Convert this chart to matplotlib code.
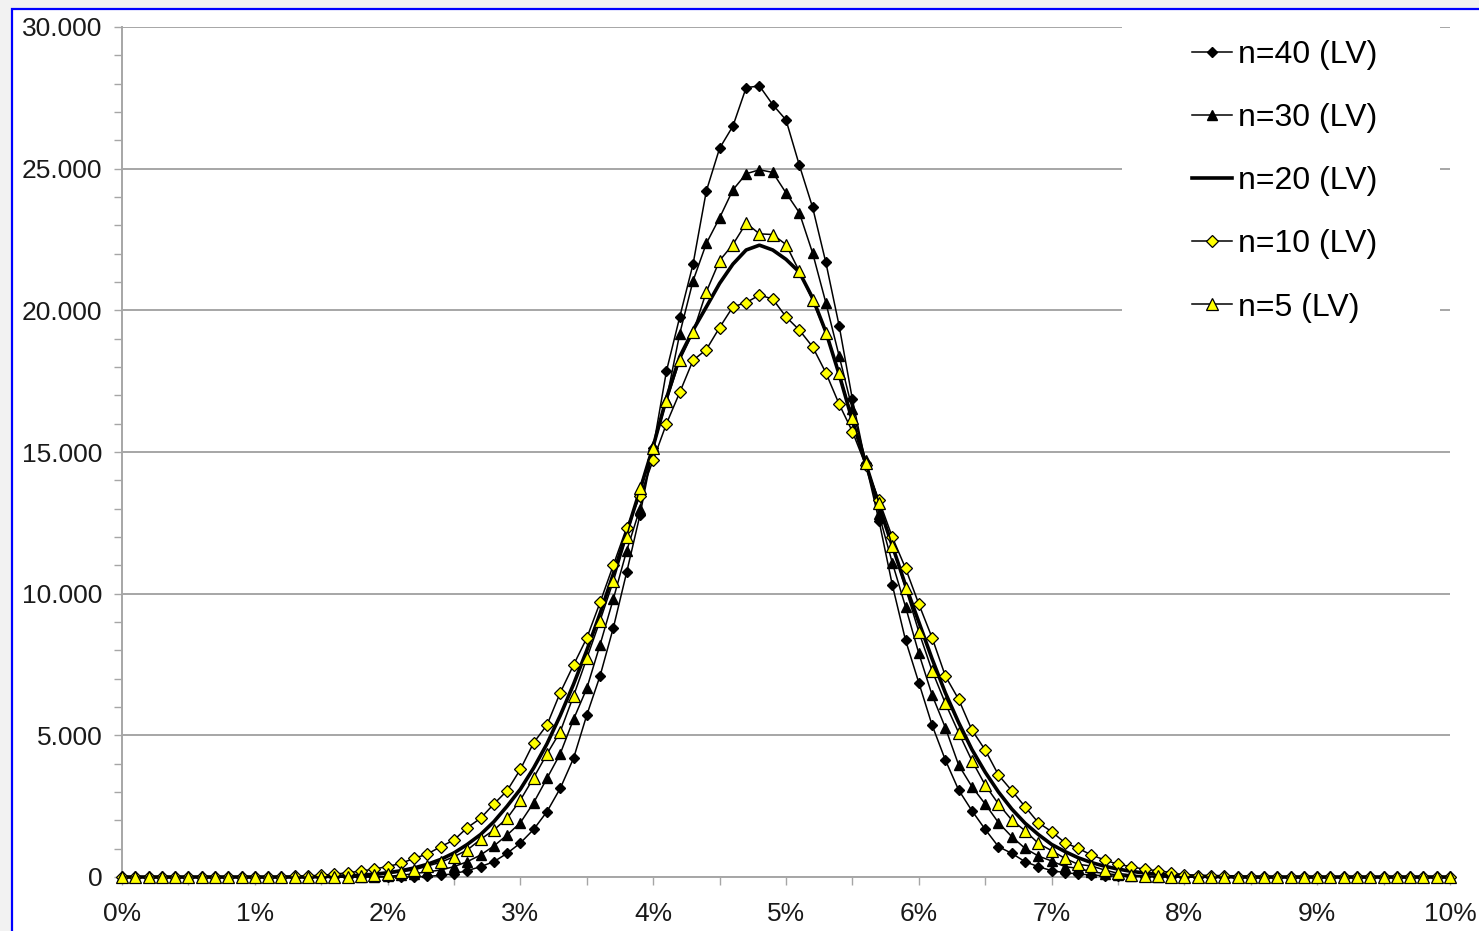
import matplotlib
matplotlib.use("Agg")
import matplotlib.pyplot as plt
import numpy as np
from matplotlib.patches import Rectangle
from matplotlib.ticker import FuncFormatter, MultipleLocator

# interest rate grid, 0% .. 10% in 0.1% steps
rates = np.round(np.linspace(0.0, 10.0, 101), 1)

n40 = [0] * 23 + [
    20, 60, 118, 224, 365, 541, 835, 1200, 1682, 2306,
    3129, 4188, 5717, 7100, 8800, 10750, 12770, 15150, 17860, 19770,
    21630, 24210, 25720, 26500, 27860, 27920, 27260, 26720, 25130, 23640,
    21690, 19460, 16860, 14600, 12580, 10320, 8360, 6860, 5360, 4130,
    3070, 2340, 1680, 1070, 835, 540, 365, 224, 153, 106,
    70, 45, 30, 18, 10, 5,
] + [0] * 22

n30 = [0] * 19 + [
    10, 25, 60, 118, 182, 247, 365, 541, 776, 1094,
    1482, 1918, 2623, 3482, 4350, 5565, 6659, 8200, 9815, 11510,
    13000, 15200, 16850, 19180, 21040, 22360, 23265, 24250, 24820, 24960,
    24870, 24145, 23450, 22030, 20270, 18390, 16500, 14700, 12800, 11100,
    9540, 7894, 6423, 5270, 3953, 3188, 2576, 1918, 1423, 1012,
    741, 565, 365, 306, 188, 120, 80, 50, 30, 15,
    8,
] + [0] * 21

n20 = [0] * 15 + [
    15, 25, 40, 65, 100, 150, 220, 320, 450, 620,
    850, 1150, 1500, 1950, 2500, 3100, 3850, 4700, 5700, 6800,
    8000, 9300, 10700, 12150, 13650, 15200, 16900, 18360, 19300, 20120,
    20950, 21630, 22130, 22300, 22130, 21800, 21350, 20440, 19240, 17740,
    16100, 14600, 13100, 11700, 10300, 9000, 7700, 6500, 5450, 4500,
    3700, 3000, 2400, 1900, 1500, 1150, 900, 680, 510, 380,
    280, 200, 140, 100, 70, 45, 30, 18, 10, 5,
] + [0] * 16

n10 = [0] * 11 + [
    5, 12, 22, 40, 60, 100, 150, 210, 280, 370,
    482, 659, 812, 1071, 1306, 1741, 2071, 2576, 3047, 3800,
    4741, 5364, 6505, 7482, 8435, 9690, 11010, 12330, 13436, 14718,
    16000, 17106, 18237, 18614, 19394, 20123, 20274, 20538, 20400, 19771,
    19306, 18715, 17798, 16690, 15723, 14529, 13300, 12000, 10900, 9635,
    8446, 7094, 6270, 5188, 4482, 3600, 3047, 2482, 1918, 1600,
    1212, 1012, 776, 600, 447, 365, 271, 224, 153, 71,
    50, 35, 25, 15, 10,
] + [0] * 15

n5 = [0] * 17 + [
    15, 25, 60, 118, 182, 247, 388, 518, 718, 953,
    1329, 1659, 2071, 2718, 3506, 4341, 5129, 6388, 7717, 9050,
    10444, 12015, 13737, 15157, 16792, 18237, 19218, 20650, 21757, 22322,
    23077, 22700, 22675, 22322, 21380, 20350, 19206, 17798, 16189, 14618,
    13210, 11700, 10200, 8657, 7282, 6130, 5094, 4106, 3247, 2576,
    2012, 1635, 1188, 929, 659, 447, 388, 247, 130, 71,
    35, 18, 8,
] + [0] * 21

labels = ["n=40 (LV)", "n=30 (LV)", "n=20 (LV)", "n=10 (LV)", "n=5 (LV)"]

plt.rcParams["font.family"] = ["Liberation Sans", "DejaVu Sans"]

fig = plt.figure(figsize=(14.79, 9.31), dpi=100, facecolor="#f2f2f2")
fig.patches.append(Rectangle((12 / 1479, -0.05), 1.2, 1 - 9 / 931 + 0.05,
                             transform=fig.transFigure, facecolor="white",
                             edgecolor="#0000ff", linewidth=1.6, zorder=-10))
ax = fig.add_axes([122 / 1479, 1 - 877 / 931, (1450 - 122) / 1479, (877 - 27) / 931])
ax.set_facecolor("none")

ax.plot(rates, n40, color="black", lw=1.1, marker="D", ms=5.5, mfc="black", mec="black",
        label=labels[0], clip_on=False, zorder=3)
ax.plot(rates, n30, color="black", lw=1.1, marker="^", ms=7, mfc="black", mec="black",
        label=labels[1], clip_on=False, zorder=3)
ax.plot(rates, n20, color="black", lw=2.6, label=labels[2], clip_on=False, zorder=3)
ax.plot(rates, n10, color="black", lw=1.1, marker="D", ms=6.5, mfc="#ffff00", mec="black",
        mew=0.9, label=labels[3], clip_on=False, zorder=3)
ax.plot(rates, n5, color="black", lw=1.1, marker="^", ms=8, mfc="#ffff00", mec="black",
        mew=0.9, label=labels[4], clip_on=False, zorder=3)

ax.set_xlim(0, 10)
ax.set_ylim(0, 30000)
ax.xaxis.set_major_locator(MultipleLocator(1))
ax.xaxis.set_minor_locator(MultipleLocator(0.5))
ax.yaxis.set_major_locator(MultipleLocator(5000))
ax.yaxis.set_minor_locator(MultipleLocator(1000))
ax.xaxis.set_major_formatter(FuncFormatter(lambda v, p: f"{int(round(v))}%"))
ax.yaxis.set_major_formatter(FuncFormatter(lambda v, p: f"{int(round(v)):,}".replace(",", ".")))

ax.grid(True, axis="y", which="major", color="#a6a6a6", lw=1.4, zorder=1)
for side in ["top", "right"]:
    ax.spines[side].set_visible(False)
for side in ["left", "bottom"]:
    ax.spines[side].set_color("#a6a6a6")
    ax.spines[side].set_linewidth(1.4)
ax.tick_params(axis="both", which="both", direction="out", length=6, width=1.0,
               color="#a6a6a6", labelsize=19, labelcolor="#1a1a1a")
ax.tick_params(axis="y", pad=8)
ax.tick_params(axis="x", pad=12)

# white legend area hiding the gridlines, as in the original
ax.add_patch(Rectangle((1000 / 1328, 0.652), 318 / 1328, 0.36, transform=ax.transAxes,
                       facecolor="white", edgecolor="none", zorder=2, clip_on=False))
leg = ax.legend(loc="upper left", bbox_to_anchor=(1070 / 1328, 0.985), frameon=False,
                fontsize=23, handlelength=1.25, handletextpad=0.2, labelspacing=1.04,
                borderpad=0, borderaxespad=0)
leg.set_zorder(5)

fig.savefig("out.png", dpi=100, facecolor=fig.get_facecolor())
